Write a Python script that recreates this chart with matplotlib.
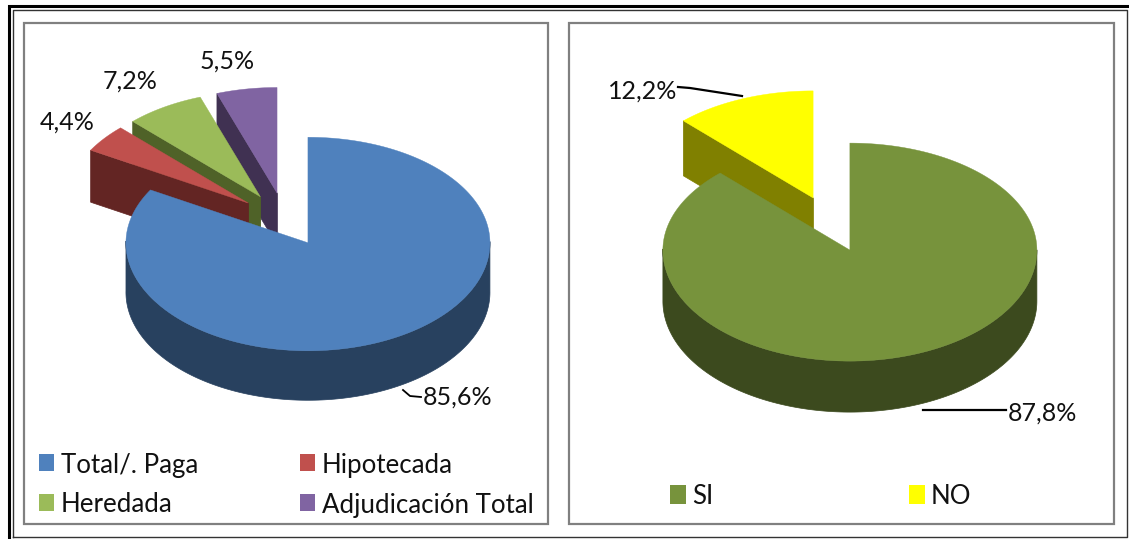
import numpy as np
import matplotlib
matplotlib.use("Agg")
import matplotlib.pyplot as plt
from matplotlib.patches import Rectangle

plt.rcParams['font.family'] = ['Lato', 'DejaVu Sans']

# valores de los dos graficos
labels_a = ['Total/. Paga', 'Hipotecada', 'Heredada', 'Adjudicación Total']
values_a = [85.6, 4.4, 7.2, 5.5]
pct_a = ['85,6%', '4,4%', '7,2%', '5,5%']
colors_a = ['#4F81BD', '#C0504D', '#9BBB59', '#8064A2']
dark_a = ['#28415F', '#632523', '#4F6228', '#403152']

labels_b = ['SI', 'NO']
values_b = [87.8, 12.2]
pct_b = ['87,8%', '12,2%']
colors_b = ['#77933C', '#FFFF00']
dark_b = ['#3C4A1E', '#808000']


def point(cx, cy, rx, ry, ang):
    # angulo en grados, horario desde las 12
    a = np.radians(ang)
    return cx + rx * np.sin(a), cy - ry * np.cos(a)


def pie3d(ax, values, colors, dark, cx, cy, rx, ry, ry_front, depth, explode):
    total = sum(values)
    starts = np.cumsum([0] + list(values))[:-1] / total * 360
    sweeps = np.array(values) / total * 360
    # de atras hacia delante: la primera porcion se pinta al final
    for i in reversed(range(len(values))):
        z = 2 + len(values) - i
        a0, a1 = starts[i], starts[i] + sweeps[i]
        mid = (a0 + a1) / 2
        ox, oy = point(0, 0, rx * explode, ry * explode, mid)
        x0, y0 = cx + ox, cy + oy
        angs = np.linspace(a0, a1, 300)
        # la mitad delantera se ve un poco mas abierta (perspectiva)
        r_y = np.where(np.cos(np.radians(angs)) < 0, ry_front, ry)
        xs, ys = point(x0, y0, rx, r_y, angs)
        # borde exterior, solo la parte de delante
        front = np.cos(np.radians(angs)) <= 0.02
        if front.any():
            fx, fy = xs[front], ys[front]
            ax.fill(np.r_[fx, fx[::-1]], np.r_[fy, fy[::-1] + depth_arc(depth, ry_front, ry)],
                    color=dark[i], lw=0.5, zorder=z)
        # cara plana del corte inicial
        if 180 <= a0 < 360:
            ax.fill([x0, xs[0], xs[0], x0], [y0, ys[0], ys[0] + depth, y0 + depth],
                    color=dark[i], lw=0.5, zorder=z)
        if 180 <= a1 <= 360:
            ax.plot([x0, x0], [y0, y0 + depth], color=dark[i], lw=0.5, zorder=z)
        ax.fill(np.r_[x0, xs], np.r_[y0, ys], color=colors[i], lw=0.3, zorder=z)


def depth_arc(depth, ry_front, ry):
    # el borde frontal baja lo mismo en total aunque el radio crezca
    return depth - (ry_front - ry)


fig = plt.figure(figsize=(11.29, 5.39), dpi=100)
ax = fig.add_axes([0, 0, 1, 1])
ax.set_xlim(0, 1129)
ax.set_ylim(539, 0)
ax.axis('off')

# marcos
ax.plot([8.5, 8.5, 1129], [539, 6, 6], color='black', lw=2.2, solid_joinstyle='miter')
ax.plot([12.5, 12.5, 1126.5, 1126.5, 12.5], [537, 10, 10, 537, 537], color='#333333', lw=1.0)
for x0, w in [(23.5, 524.5), (568.5, 545)]:
    ax.add_patch(Rectangle((x0 + 1, 23.5), w, 501, fc='#c4c4c4', ec='none', zorder=1))
    ax.add_patch(Rectangle((x0, 22.5), w, 501, fc='white', ec='#808080', lw=1.6, zorder=1))

pie3d(ax, values_a, colors_a, dark_a, 284.8, 219.5, 182, 105.5, 108, 52, 0.2546)
pie3d(ax, values_b, colors_b, dark_b, 831.5, 224, 187, 107, 111, 55, 0.263)

# etiquetas de porcentaje
txt = dict(fontsize=18, color='#111111', va='center', ha='left', zorder=20)
ax.text(423, 397, pct_a[0], **txt)
ax.text(40, 122, pct_a[1], **txt)
ax.text(103, 81, pct_a[2], **txt)
ax.text(200, 61, pct_a[3], **txt)
ax.text(1008, 413, pct_b[0], **txt)
ax.text(608, 91, pct_b[1], **txt)

# lineas guia
ax.plot([403, 410, 421], [390, 396, 397], color='black', lw=1.3, zorder=20)
ax.plot([923, 1006], [410, 410], color='black', lw=1.6, zorder=20)
ax.plot([678, 690, 742], [87, 88, 96], color='black', lw=1.6, zorder=20)

# leyendas
leg = dict(fontsize=18.6, color='#111111', va='center', ha='left', zorder=20)
for name, col, x, y in zip(labels_a, colors_a, [39, 300, 39, 300], [454, 454, 494, 494]):
    ax.add_patch(Rectangle((x, y), 15, 17, fc=col, ec='none', zorder=20))
    ax.text(x + 22, y + 11, name, **leg)
for name, col, x in zip(labels_b, colors_b, [670, 909]):
    ax.add_patch(Rectangle((x, 485), 16, 19, fc=col, ec='none', zorder=20))
    ax.text(x + 22, 496, name, **leg)

fig.savefig('out.png', dpi=100)
